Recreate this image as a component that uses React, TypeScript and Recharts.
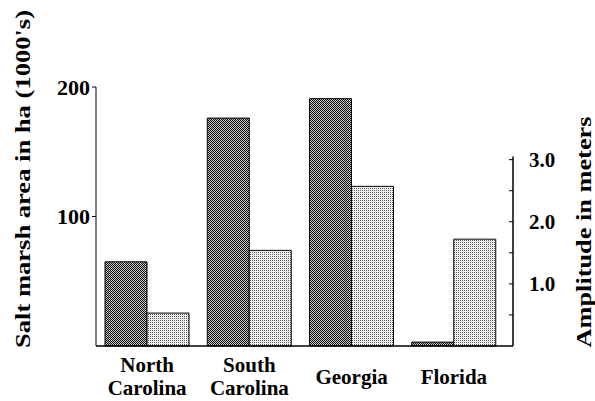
import React from "react";
import { BarChart, Bar, XAxis, YAxis } from "recharts";

// values
const states = ["North Carolina", "South Carolina", "Georgia", "Florida"];
const marshArea = [65, 176, 191, 3]; // ha (1000's)
const tidalAmplitude = [0.53, 1.54, 2.57, 1.72]; // meters
const areaTicks = [100, 200];
const amplitudeTicks = [0.5, 1.0, 1.5, 2.0, 2.5, 3.0];

const data = states.map((state, i) => ({
  state,
  area: marshArea[i],
  amplitude: tidalAmplitude[i],
}));

const FONT = "Liberation Serif, Times New Roman, DejaVu Serif, serif";
const TOP = 87;
const PLOT_H = 259;
const AMP_MAX = 4.17;
const AMP_AXIS_TOP = 3.05; // the right axis line stops just above 3.0

const textStyle = { fontFamily: FONT, fontWeight: 700 as const };

const StateTick = (props: any) => {
  const { x, y, payload } = props;
  const words: string[] = String(payload.value).split(" ");
  const start = words.length > 1 ? 26 : 38;
  return (
    <text x={x} y={y + start} textAnchor="middle" style={textStyle} fontSize={21} fill="#000">
      {words.map((line, i) => (
        <tspan key={i} x={x} dy={i === 0 ? 0 : 23}>
          {line}
        </tspan>
      ))}
    </text>
  );
};

const AmplitudeTick = (props: any) => {
  const { x, y, payload } = props;
  const v = Number(payload.value);
  const pxPerUnit = PLOT_H / AMP_MAX;
  const isTop = v === amplitudeTicks[amplitudeTicks.length - 1];
  return (
    <g>
      {isTop && (
        <line
          x1={x}
          x2={x}
          y1={y - (AMP_AXIS_TOP - v) * pxPerUnit}
          y2={y + v * pxPerUnit}
          stroke="#000"
          strokeWidth={1.5}
        />
      )}
      <line x1={x - 4} x2={x} y1={y} y2={y} stroke="#000" strokeWidth={1} />
      {Number.isInteger(v) && (
        <text x={x + 16} y={y} dy="0.36em" style={textStyle} fontSize={21} fill="#000">
          {v.toFixed(1)}
        </text>
      )}
    </g>
  );
};

const LeftTitle = () => (
  <text
    transform="translate(30, 179) rotate(-90)"
    textAnchor="middle"
    style={textStyle}
    fontSize={21}
    fill="#000"
    textLength={338}
    lengthAdjust="spacingAndGlyphs"
  >
    Salt marsh area in ha (1000's)
  </text>
);

const RightTitle = () => (
  <text
    transform="translate(591, 232) rotate(-90)"
    textAnchor="middle"
    style={textStyle}
    fontSize={21}
    fill="#000"
    textLength={231}
    lengthAdjust="spacingAndGlyphs"
  >
    Amplitude in meters
  </text>
);

export default function App() {
  return (
    <div style={{ position: "absolute", left: 0, top: 0, background: "#fff" }}>
      <BarChart
        width={595}
        height={401}
        data={data}
        margin={{ top: TOP, right: 0, bottom: 0, left: 0 }}
        barCategoryGap={9}
        barGap={0}
      >
        <defs>
          <pattern id="darkHatch" width="2" height="2" patternUnits="userSpaceOnUse">
            <rect width="2" height="2" fill="#0a0a0a" />
            <rect x="1" y="0" width="1" height="1" fill="#d0d0d0" />
            <rect x="0" y="1" width="1" height="1" fill="#c0c0c0" />
          </pattern>
          <pattern id="lightDots" width="2" height="2" patternUnits="userSpaceOnUse">
            <rect width="2" height="2" fill="#ffffff" />
            <rect x="0" y="0" width="1" height="1" fill="#555555" />
            <rect x="1" y="1" width="1" height="1" fill="#dddddd" />
          </pattern>
        </defs>
        <XAxis
          dataKey="state"
          height={55}
          tickLine={false}
          tickSize={0}
          tickMargin={0}
          axisLine={{ stroke: "#000", strokeWidth: 1.5 }}
          padding={{ left: 0, right: 8 }}
          interval={0}
          tick={<StateTick />}
        />
        <YAxis
          yAxisId="left"
          domain={[0, 200]}
          ticks={areaTicks}
          width={96}
          tickSize={4}
          tickMargin={2}
          axisLine={{ stroke: "#000", strokeWidth: 1 }}
          tickLine={{ stroke: "#000" }}
          tick={{ fontFamily: FONT, fontWeight: 700, fontSize: 22, fill: "#000" }}
          label={{ content: () => <LeftTitle /> }}
        />
        <YAxis
          yAxisId="right"
          orientation="right"
          domain={[0, AMP_MAX]}
          ticks={amplitudeTicks}
          width={82}
          axisLine={false}
          tickLine={false}
          tickSize={0}
          tickMargin={0}
          tick={<AmplitudeTick />}
          label={{ content: () => <RightTitle /> }}
        />
        <Bar yAxisId="left" dataKey="area" fill="url(#darkHatch)" stroke="#000" strokeWidth={1} isAnimationActive={false} />
        <Bar yAxisId="right" dataKey="amplitude" fill="url(#lightDots)" stroke="#000" strokeWidth={1} isAnimationActive={false} />
      </BarChart>
    </div>
  );
}
